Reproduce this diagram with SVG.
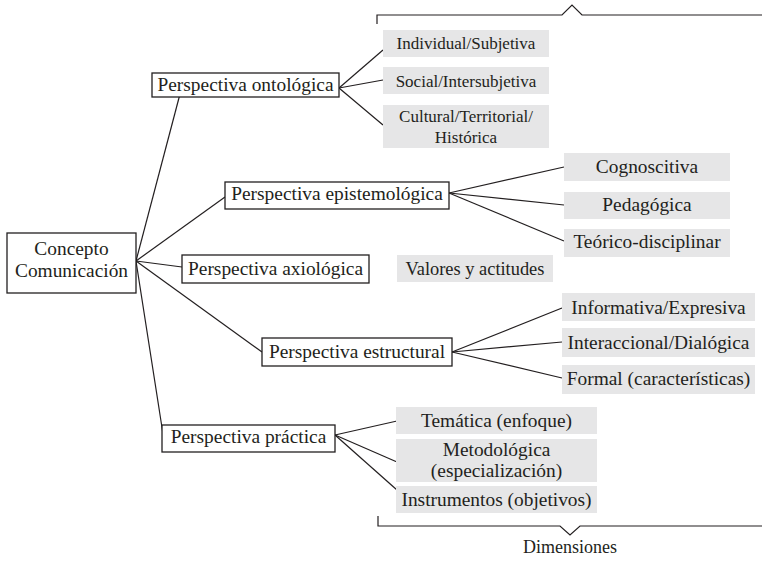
<svg xmlns="http://www.w3.org/2000/svg" width="762" height="563" viewBox="0 0 762 563">
<style>
  .bx { fill: #ffffff; stroke: #231f20; stroke-width: 1.3; }
  .gb { fill: #e6e6e7; stroke: none; }
  text { font-family: 'Liberation Serif', 'DejaVu Serif', serif; fill: #231f20; text-anchor: middle; }
  .m { font-size: 19.4px; }
  .s { font-size: 17px; }
  .v { font-size: 18.4px; }
  .ln { stroke: #231f20; stroke-width: 1.2; fill: none; }
</style>
<rect width="762" height="563" fill="#ffffff"/>
<g id="connectors">
  <line class="ln" x1="136" y1="261" x2="180" y2="94"/>
  <line class="ln" x1="136" y1="261" x2="225" y2="197"/>
  <line class="ln" x1="136" y1="261" x2="182" y2="267"/>
  <line class="ln" x1="136" y1="261" x2="262" y2="352"/>
  <line class="ln" x1="136" y1="261" x2="163" y2="434"/>
  <line class="ln" x1="339" y1="88" x2="383" y2="50"/>
  <line class="ln" x1="339" y1="88" x2="383" y2="80"/>
  <line class="ln" x1="339" y1="88" x2="383" y2="125"/>
  <line class="ln" x1="449" y1="193" x2="564" y2="167"/>
  <line class="ln" x1="449" y1="193" x2="564" y2="205"/>
  <line class="ln" x1="449" y1="193" x2="564" y2="241"/>
  <line class="ln" x1="452" y1="352" x2="562" y2="308"/>
  <line class="ln" x1="452" y1="352" x2="562" y2="342"/>
  <line class="ln" x1="452" y1="352" x2="562" y2="378"/>
  <line class="ln" x1="335" y1="435" x2="397" y2="421"/>
  <line class="ln" x1="335" y1="435" x2="397" y2="462"/>
  <line class="ln" x1="335" y1="435" x2="397" y2="490"/>
</g>
<g id="bracket-top">
  <path class="ln" d="M377,24 V15 H562 L572,5 L582,15 H762"/>
</g>
<g id="bracket-bottom">
  <path class="ln" d="M378,516 V526 H560 L570,535 L580,526 H762"/>
  <text x="570" y="553" font-family="Liberation Serif, serif" font-size="18">Dimensiones</text>
</g>
<g id="concepto">
  <rect class="bx" x="7" y="233" width="129" height="60"/>
  <text class="m" x="71.5" y="255" font-family="Liberation Serif, serif">Concepto</text>
  <text class="m" x="71.5" y="277" font-family="Liberation Serif, serif">Comunicación</text>
</g>
<g id="ontologica">
  <rect class="bx" x="152" y="73" width="187" height="24"/>
  <text class="m" x="245.5" y="91" font-family="Liberation Serif, serif">Perspectiva ontológica</text>
</g>
<g id="epistemologica">
  <rect class="bx" x="225" y="182" width="224" height="27"/>
  <text class="m" x="337" y="200" font-family="Liberation Serif, serif">Perspectiva epistemológica</text>
</g>
<g id="axiologica">
  <rect class="bx" x="182" y="255" width="187" height="28"/>
  <text class="m" x="275.5" y="275" font-family="Liberation Serif, serif">Perspectiva axiológica</text>
</g>
<g id="estructural">
  <rect class="bx" x="262" y="338" width="190" height="28"/>
  <text class="m" x="357" y="358" font-family="Liberation Serif, serif">Perspectiva estructural</text>
</g>
<g id="practica">
  <rect class="bx" x="162" y="425" width="173" height="27"/>
  <text class="m" x="248.5" y="443" font-family="Liberation Serif, serif">Perspectiva práctica</text>
</g>
<g id="individual">
  <rect class="gb" x="383" y="30" width="166" height="27"/>
  <text class="s" x="466" y="49" font-family="Liberation Serif, serif">Individual/Subjetiva</text>
</g>
<g id="social">
  <rect class="gb" x="383" y="67" width="166" height="27"/>
  <text class="s" x="466" y="87" font-family="Liberation Serif, serif">Social/Intersubjetiva</text>
</g>
<g id="cultural">
  <rect class="gb" x="383" y="105" width="166" height="43"/>
  <text class="s" x="466" y="122" font-family="Liberation Serif, serif">Cultural/Territorial/</text>
  <text class="s" x="466" y="143" font-family="Liberation Serif, serif">Histórica</text>
</g>
<g id="cognoscitiva">
  <rect class="gb" x="564" y="153" width="166" height="28"/>
  <text class="m" x="647" y="173" font-family="Liberation Serif, serif">Cognoscitiva</text>
</g>
<g id="pedagogica">
  <rect class="gb" x="564" y="192" width="166" height="27"/>
  <text class="m" x="647" y="211" font-family="Liberation Serif, serif">Pedagógica</text>
</g>
<g id="teorico">
  <rect class="gb" x="564" y="229" width="166" height="28"/>
  <text class="m" x="647" y="248" font-family="Liberation Serif, serif">Teórico-disciplinar</text>
</g>
<g id="valores">
  <rect class="gb" x="397" y="255" width="156" height="27"/>
  <text class="v" x="475" y="275" font-family="Liberation Serif, serif">Valores y actitudes</text>
</g>
<g id="informativa">
  <rect class="gb" x="562" y="293" width="193" height="28"/>
  <text class="m" x="658.5" y="314" font-family="Liberation Serif, serif">Informativa/Expresiva</text>
</g>
<g id="interaccional">
  <rect class="gb" x="562" y="328" width="193" height="29"/>
  <text class="m" x="658.5" y="349" font-family="Liberation Serif, serif">Interaccional/Dialógica</text>
</g>
<g id="formal">
  <rect class="gb" x="562" y="365" width="193" height="29"/>
  <text class="m" x="658.5" y="385" font-family="Liberation Serif, serif">Formal (características)</text>
</g>
<g id="tematica">
  <rect class="gb" x="396" y="407" width="201" height="27"/>
  <text class="m" x="496.5" y="427" font-family="Liberation Serif, serif">Temática (enfoque)</text>
</g>
<g id="metodologica">
  <rect class="gb" x="396" y="439" width="201" height="43"/>
  <text class="m" x="496.5" y="456" font-family="Liberation Serif, serif">Metodológica</text>
  <text class="m" x="496.5" y="477" font-family="Liberation Serif, serif">(especialización)</text>
</g>
<g id="instrumentos">
  <rect class="gb" x="396" y="486" width="201" height="27"/>
  <text class="m" x="496.5" y="506" font-family="Liberation Serif, serif">Instrumentos (objetivos)</text>
</g>
</svg>
